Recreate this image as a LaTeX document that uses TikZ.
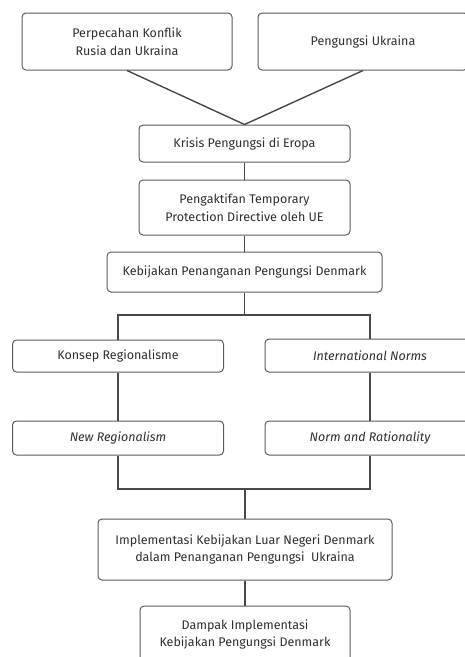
\documentclass[tikz,border=0pt]{standalone}
\usepackage{fontspec}
\setmainfont{Fira Sans}
\definecolor{boxline}{HTML}{5A5A5A}
\definecolor{txt}{HTML}{2E2E2E}
\begin{document}
\begin{tikzpicture}[x=1pt,y=-1pt,line width=1.4pt,
  box/.style={draw=boxline,line width=1pt,rounded corners=4pt,align=center,
    inner sep=0pt,text=txt,font=\fontsize{12.5}{17.5}\selectfont},
  link/.style={draw=boxline!80!black}]
  \useasboundingbox (0,0) rectangle (465,657);
  \node[box,minimum width=210,minimum height=57] (konflik) at (127,41.5) {Perpecahan Konflik\\Rusia dan Ukraina};
  \node[box,minimum width=210,minimum height=57] (pengungsi) at (363,41.5) {Pengungsi Ukraina};
  \node[box,minimum width=211,minimum height=37] (krisis) at (244.5,143.5) {Krisis Pengungsi di Eropa};
  \node[box,minimum width=211,minimum height=55] (tpd) at (244.5,207.5) {Pengaktifan Temporary\\Protection Directive oleh UE};
  \node[box,minimum width=275,minimum height=40] (kebijakan) at (244.5,272) {Kebijakan Penanganan Pengungsi Denmark};
  \node[box,minimum width=211,minimum height=32] (regional) at (118,356) {Konsep Regionalisme};
  \node[box,minimum width=210,minimum height=33] (norms) at (370,355.5) {\itshape International Norms};
  \node[box,minimum width=211,minimum height=34] (newreg) at (118,438) {\itshape New Regionalism};
  \node[box,minimum width=210,minimum height=34] (rational) at (370,438) {\itshape Norm and Rationality};
  \node[box,minimum width=294,minimum height=61] (implementasi) at (245,549.5) {Implementasi Kebijakan Luar Negeri Denmark\\dalam Penanganan Pengungsi\ \ Ukraina};
  \node[box,minimum width=210,minimum height=57] (dampak) at (245,634.5) {Dampak Implementasi\\Kebijakan Pengungsi Denmark};
  \coordinate (split) at (244.5,315);
  \coordinate (join) at (245,489);
  \draw[link] (konflik.south)--(krisis.north);
  \draw[link] (pengungsi.south)--(krisis.north);
  \draw[link] (krisis)--(tpd);
  \draw[link] (tpd)--(kebijakan);
  \draw[link] (kebijakan)--(split);
  \draw[link] (split)-|(regional.north);
  \draw[link] (split)-|(norms.north);
  \draw[link] (regional)--(newreg);
  \draw[link] (norms)--(rational);
  \draw[link] (newreg.south)|-(join);
  \draw[link] (rational.south)|-(join);
  \draw[link] (join)--(implementasi);
  \draw[link] (implementasi)--(dampak);
\end{tikzpicture}
\end{document}
